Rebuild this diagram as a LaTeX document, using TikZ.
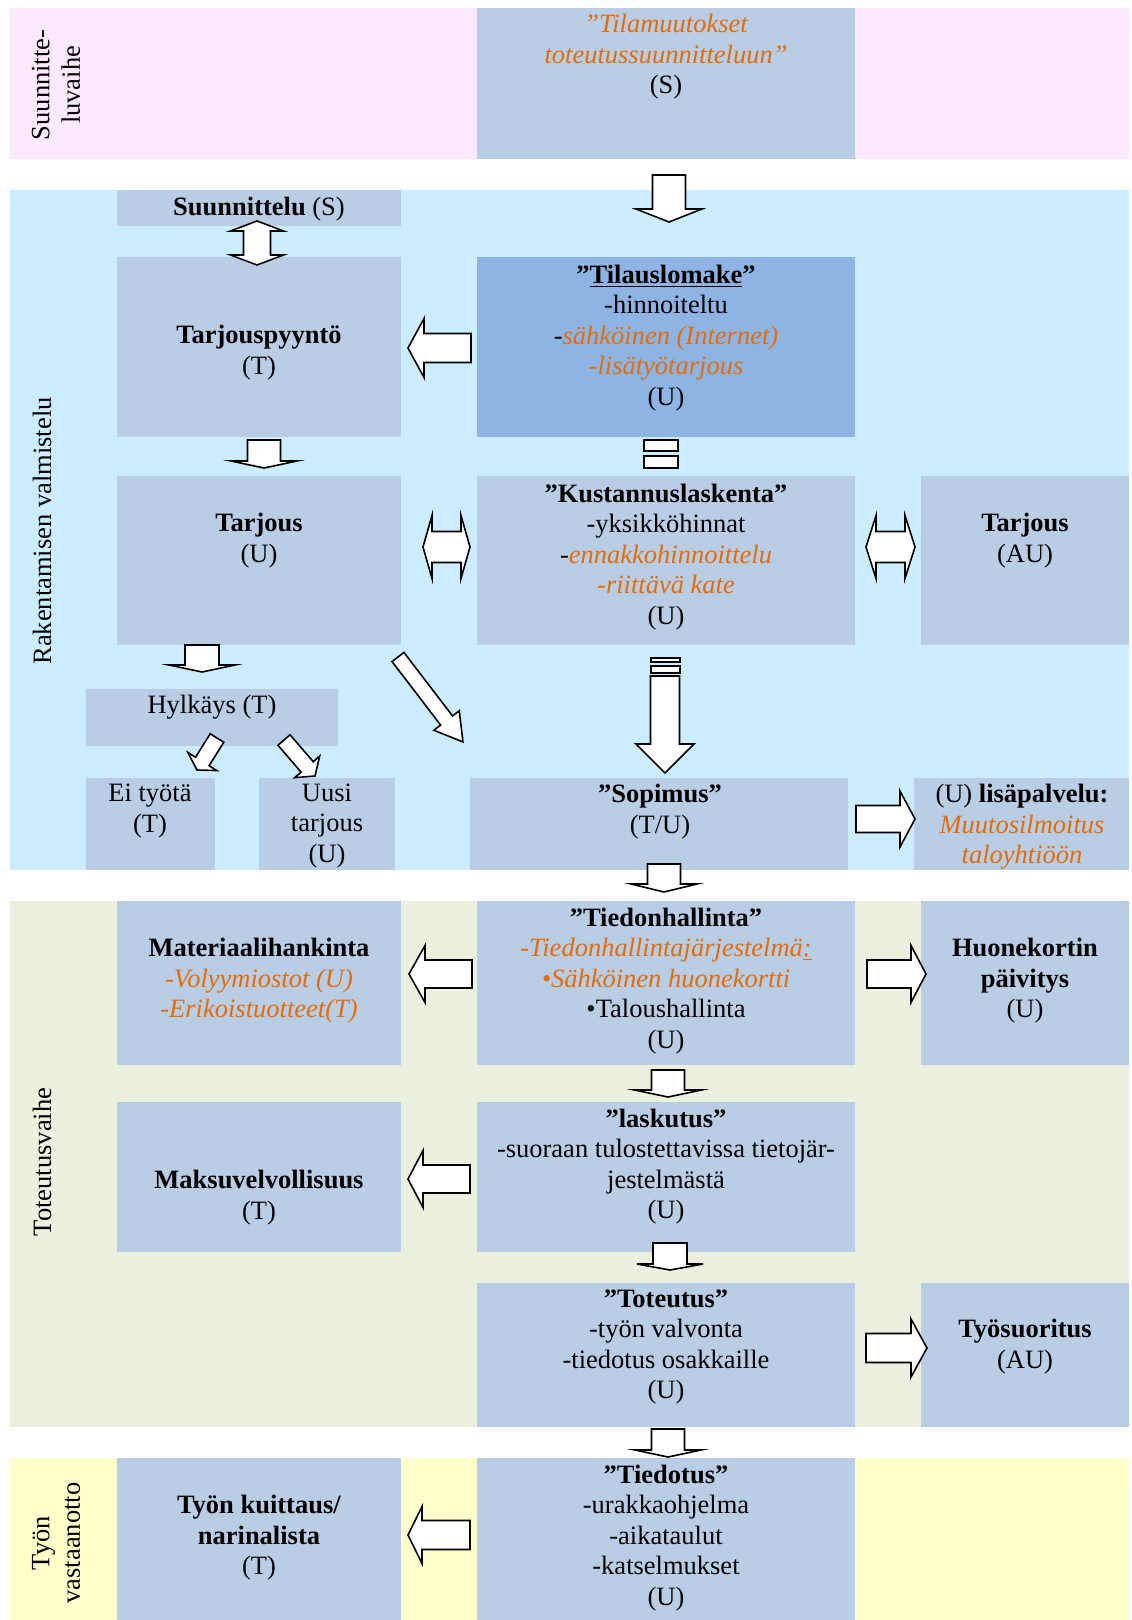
\documentclass[tikz,border=0pt]{standalone}
\usepackage{fontspec}
\setmainfont{Liberation Serif}
\usetikzlibrary{calc,fit}
\definecolor{pinkbg}{HTML}{FDE9FD}
\definecolor{bluebg}{HTML}{CCECFF}
\definecolor{greenbg}{HTML}{EBF1DE}
\definecolor{yellowbg}{HTML}{FFFFCC}
\definecolor{boxc}{HTML}{B9CDE5}
\definecolor{boxdark}{HTML}{8EB4E3}
\definecolor{orng}{HTML}{E46C0A}
\newcommand\orn[1]{\textcolor{orng}{\itshape #1}}
% block arrow: start, tip, shaft width, head width, head length (px)
\newcommand\barrow[5]{%
  \draw[barr] let \p1=(#1), \p2=(#2),
    \n1={atan2(\y2-\y1,\x2-\x1)}, \n2={veclen(\x2-\x1,\y2-\y1)} in
    ([shift={(\p1)},rotate=\n1]0pt,{#3*0.25pt})
    -- ([shift={(\p1)},rotate=\n1]{\n2*1pt-#5*0.5pt},{#3*0.25pt})
    -- ([shift={(\p1)},rotate=\n1]{\n2*1pt-#5*0.5pt},{#4*0.25pt})
    -- ([shift={(\p1)},rotate=\n1]{\n2*1pt},0pt)
    -- ([shift={(\p1)},rotate=\n1]{\n2*1pt-#5*0.5pt},{-#4*0.25pt})
    -- ([shift={(\p1)},rotate=\n1]{\n2*1pt-#5*0.5pt},{-#3*0.25pt})
    -- ([shift={(\p1)},rotate=\n1]0pt,{-#3*0.25pt}) -- cycle;}
% double block arrow: end1, end2, shaft width, head width, head length (px)
\newcommand\dbarrow[5]{%
  \draw[barr] let \p1=(#1), \p2=(#2),
    \n1={atan2(\y2-\y1,\x2-\x1)}, \n2={veclen(\x2-\x1,\y2-\y1)} in
    ([shift={(\p1)},rotate=\n1]0pt,0pt)
    -- ([shift={(\p1)},rotate=\n1]{#5*0.5pt},{#4*0.25pt})
    -- ([shift={(\p1)},rotate=\n1]{#5*0.5pt},{#3*0.25pt})
    -- ([shift={(\p1)},rotate=\n1]{\n2*1pt-#5*0.5pt},{#3*0.25pt})
    -- ([shift={(\p1)},rotate=\n1]{\n2*1pt-#5*0.5pt},{#4*0.25pt})
    -- ([shift={(\p1)},rotate=\n1]{\n2*1pt},0pt)
    -- ([shift={(\p1)},rotate=\n1]{\n2*1pt-#5*0.5pt},{-#4*0.25pt})
    -- ([shift={(\p1)},rotate=\n1]{\n2*1pt-#5*0.5pt},{-#3*0.25pt})
    -- ([shift={(\p1)},rotate=\n1]{#5*0.5pt},{-#3*0.25pt})
    -- ([shift={(\p1)},rotate=\n1]{#5*0.5pt},{-#4*0.25pt}) -- cycle;}
\begin{document}
\begin{tikzpicture}[x=0.5pt,y=-0.5pt,
  band/.style={inner sep=0pt, draw=none},
  box/.style={inner sep=0pt, draw=none, fill=boxc},
  lbl/.style={inner sep=0pt, align=center, font=\fontsize{13.25}{15.25}\selectfont},
  txt/.style={lbl, yshift=-1.4pt},
  barr/.style={draw=black, fill=white, line width=0.8pt, line join=miter},
  bar/.style={draw=black, fill=white, line width=0.8pt, inner sep=0pt}]
\useasboundingbox (0,0) rectangle (1131,1620);
% bands
\node[band, fill=pinkbg,   fit={(10,8) (1129,159)}] (bandS) {};
\node[band, fill=bluebg,   fit={(10,190) (1129,870)}] (bandR) {};
\node[band, fill=greenbg,  fit={(10,901) (1129,1427)}] (bandT) {};
\node[band, fill=yellowbg, fit={(10,1458) (1129,1620)}] (bandV) {};
% boxes
\node[box, fit={(477,8) (855,159)}] (tilam) {};
\node[box, fit={(117,190) (401,226)}] (suun) {};
\node[box, fit={(117,257) (401,437)}] (tarjp) {};
\node[box, fill=boxdark, fit={(477,257) (855,437)}] (tilaus) {};
\node[box, fit={(117,476) (401,645)}] (tarjU) {};
\node[box, fit={(477,476) (855,645)}] (kust) {};
\node[box, fit={(921,476) (1129,645)}] (tarjAU) {};
\node[box, fit={(86,689) (338,746)}] (hylk) {};
\node[box, fit={(86,778) (215,870)}] (eityo) {};
\node[box, fit={(259,778) (395,870)}] (uusi) {};
\node[box, fit={(470,778) (848,870)}] (sopim) {};
\node[box, fit={(914,778) (1129,870)}] (lisap) {};
\node[box, fit={(117,901) (401,1065)}] (mater) {};
\node[box, fit={(477,901) (855,1065)}] (tiedh) {};
\node[box, fit={(921,901) (1129,1065)}] (huone) {};
\node[box, fit={(117,1102) (401,1252)}] (maksu) {};
\node[box, fit={(477,1102) (855,1252)}] (lasku) {};
\node[box, fit={(477,1283) (855,1427)}] (toteu) {};
\node[box, fit={(921,1283) (1129,1427)}] (tyosu) {};
\node[box, fit={(117,1458) (401,1620)}] (kuitt) {};
\node[box, fit={(477,1458) (855,1620)}] (tiedo) {};
% arrow end points
\coordinate (a1s) at (669,175);  \coordinate (a1e) at (669,222);
\coordinate (a2s) at (257,221);  \coordinate (a2e) at (257,265);
\coordinate (a3s) at (471,348);  \coordinate (a3e) at (408,348);
\coordinate (a4s) at (264,440);  \coordinate (a4e) at (264,468);
\coordinate (a6s) at (423,547);  \coordinate (a6e) at (470,547);
\coordinate (a7s) at (866,547);  \coordinate (a7e) at (915,547);
\coordinate (a8s) at (398,657);  \coordinate (a8e) at (463,742);
\coordinate (a9s) at (665,676);  \coordinate (a9e) at (665,773);
\coordinate (a10s) at (202,645); \coordinate (a10e) at (202,672);
\coordinate (a11s) at (217,738); \coordinate (a11e) at (197,770);
\coordinate (a12s) at (284,740); \coordinate (a12e) at (315,776);
\coordinate (a13s) at (856,819); \coordinate (a13e) at (915,819);
\coordinate (a14s) at (664,864); \coordinate (a14e) at (664,892);
\coordinate (a15s) at (472,974); \coordinate (a15e) at (409,974);
\coordinate (a16s) at (867,974); \coordinate (a16e) at (926,974);
\coordinate (a17s) at (668,1070); \coordinate (a17e) at (668,1097);
\coordinate (a18s) at (470,1179); \coordinate (a18e) at (408,1179);
\coordinate (a19s) at (670,1243); \coordinate (a19e) at (670,1270);
\coordinate (a20s) at (866,1348); \coordinate (a20e) at (927,1348);
\coordinate (a21s) at (668,1429); \coordinate (a21e) at (668,1457);
\coordinate (a22s) at (470,1535); \coordinate (a22e) at (408,1535);
% arrows
\barrow{a1s}{a1e}{33}{66}{13}
\dbarrow{a2s}{a2e}{27}{53}{10}
\barrow{a3s}{a3e}{29}{59}{16}
\barrow{a4s}{a4e}{33}{66}{7}
\node[bar, fit={(644,440) (678,451)}] (eq1) {};
\node[bar, fit={(644,456) (678,468)}] (eq2) {};
\dbarrow{a6s}{a6e}{31}{63}{9}
\dbarrow{a7s}{a7e}{31}{63}{10}
\barrow{a8s}{a8e}{15}{32}{27}
\node[bar, fit={(651,658) (680,662)}] (br1) {};
\node[bar, fit={(651,666) (680,673)}] (br2) {};
\barrow{a9s}{a9e}{29}{58}{29}
\barrow{a10s}{a10e}{34}{66}{7}
\barrow{a11s}{a11e}{16}{34}{10}
\barrow{a12s}{a12e}{16}{33}{12}
\barrow{a13s}{a13e}{27}{56}{15}
\barrow{a14s}{a14e}{33}{66}{8}
\barrow{a15s}{a15e}{28}{57}{16}
\barrow{a16s}{a16e}{28}{57}{15}
\barrow{a17s}{a17e}{33}{67}{7}
\barrow{a18s}{a18e}{28}{57}{15}
\barrow{a19s}{a19e}{34}{66}{6}
\barrow{a20s}{a20e}{29}{58}{16}
\barrow{a21s}{a21e}{33}{66}{7}
\barrow{a22s}{a22e}{29}{57}{14}
% band labels
\node[lbl, rotate=90] (lblS) at (56,85) {Suunnitte-\\luvaihe};
\node[lbl, rotate=90] (lblR) at (42,531) {Rakentamisen valmistelu};
\node[lbl, rotate=90] (lblT) at (42,1162) {Toteutusvaihe};
\node[lbl, rotate=90] (lblV) at (56,1543) {Työn\\vastaanotto};
% texts
\node[txt] (tilamT) at (666,54) {\orn{”Tilamuutokset}\\\orn{toteutussuunnitteluun”}\\(S)};
\node[txt] (suunT) at (259,206) {\textbf{Suunnittelu} (S)};
\node[txt] (tarjpT) at (259,350) {\textbf{Tarjouspyyntö}\\(T)};
\node[txt] (tilausT) at (666,335) {\textbf{”\underline{Tilauslomake}”}\\-hinnoiteltu\\-\orn{sähköinen (Internet)}\\\orn{-lisätyötarjous}\\(U)};
\node[txt] (tarjUT) at (259,538) {\textbf{Tarjous}\\(U)};
\node[txt] (kustT) at (666,554) {\textbf{”Kustannuslaskenta”}\\-yksikköhinnat\\-\orn{ennakkohinnoittelu}\\\orn{-riittävä kate}\\(U)};
\node[txt] (tarjAUT) at (1025,538) {\textbf{Tarjous}\\(AU)};
\node[txt] (hylkT) at (212,704) {Hylkäys (T)};
\node[txt] (eityoT) at (150,808) {Ei työtä\\(T)};
\node[txt] (uusiT) at (327,823) {Uusi\\tarjous\\(U)};
\node[txt] (sopimT) at (660,809) {\textbf{”Sopimus”}\\(T/U)};
\node[txt] (lisapT) at (1022,824) {(U) \textbf{lisäpalvelu:}\\\orn{Muutosilmoitus}\\\orn{taloyhtiöön}};
\node[txt] (materT) at (259,978) {\textbf{Materiaalihankinta}\\\orn{-Volyymiostot (U)}\\\orn{-Erikoistuotteet(T)}};
\node[txt] (tiedhT) at (666,978) {\textbf{”Tiedonhallinta”}\\\orn{-Tiedonhallintajärjestelmä\underline{:}}\\\orn{•Sähköinen huonekortti}\\•Taloushallinta\\(U)};
\node[txt] (huoneT) at (1025,978) {\textbf{Huonekortin}\\\textbf{päivitys}\\(U)};
\node[txt] (maksuT) at (259,1195) {\textbf{Maksuvelvollisuus}\\(T)};
\node[txt] (laskuT) at (666,1164) {\textbf{”laskutus”}\\-suoraan tulostettavissa tietojär-\\jestelmästä\\(U)};
\node[txt] (toteuT) at (666,1344) {\textbf{”Toteutus”}\\-työn valvonta\\-tiedotus osakkaille\\(U)};
\node[txt] (tyosuT) at (1025,1344) {\textbf{Työsuoritus}\\(AU)};
\node[txt] (kuittT) at (259,1535) {\textbf{Työn kuittaus/}\\\textbf{narinalista}\\(T)};
\node[txt] (tiedoT) at (666,1535) {\textbf{”Tiedotus”}\\-urakkaohjelma\\-aikataulut\\-katselmukset\\(U)};
\end{tikzpicture}
\end{document}
